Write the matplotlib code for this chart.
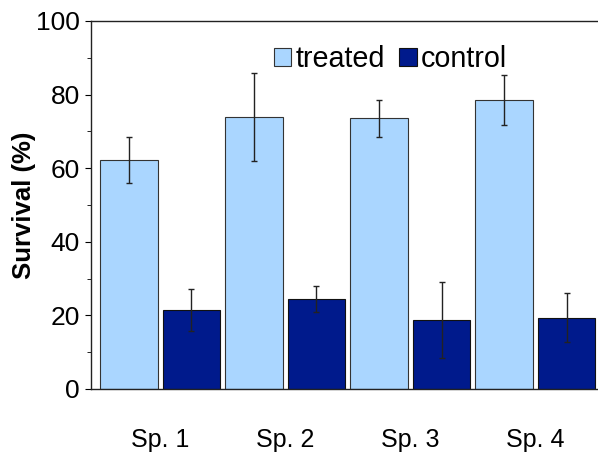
import numpy as np
import matplotlib.pyplot as plt

plt.rcParams['font.family'] = ['Liberation Sans', 'DejaVu Sans']

species = ['Sp. 1', 'Sp. 2', 'Sp. 3', 'Sp. 4']
treated = [62.2, 73.9, 73.6, 78.5]
treated_err = [6.2, 12.0, 5.0, 6.7]
control = [21.5, 24.5, 18.8, 19.4]
control_err = [5.7, 3.5, 10.4, 6.7]

x = np.arange(len(species))
w = 0.46

fig = plt.figure(figsize=(5.98, 4.53), dpi=100)
ax = fig.add_axes([91 / 598, 1 - 389 / 453, 507 / 598, 368 / 453])

err_kw = dict(ecolor='#222222', elinewidth=1, capsize=2.2, capthick=1)
ax.bar(x - 0.25, treated, w, yerr=treated_err, color='#AAD6FF',
       edgecolor='#333333', linewidth=0.8, label='treated', error_kw=err_kw)
ax.bar(x + 0.25, control, w, yerr=control_err, color='#001A8C',
       edgecolor='#111111', linewidth=0.8, label='control', error_kw=err_kw)

ax.set_xlim(-0.552, 3.5)
ax.set_ylim(0, 100)
ax.set_xticks(x)
ax.set_xticklabels(species, fontsize=18)
ax.tick_params(axis='x', length=0, pad=28)
ax.set_yticks(range(0, 101, 20))
ax.set_yticks(range(10, 100, 20), minor=True)
ax.tick_params(axis='y', which='major', length=4, labelsize=19, pad=4)
ax.tick_params(axis='y', which='minor', length=3)
ax.set_ylabel('Survival (%)', fontsize=18.5, fontweight='bold', labelpad=0)

for s in ['left', 'bottom', 'top']:
    ax.spines[s].set_color('#222222')
    ax.spines[s].set_linewidth(1)
ax.spines['right'].set_visible(False)

ax.legend(loc='upper left', bbox_to_anchor=(0.338, 0.965), ncol=2, frameon=False,
          fontsize=20.7, handlelength=0.6, handleheight=0.6, handletextpad=0.15,
          columnspacing=0.5, borderaxespad=0)

fig.savefig('out.png', dpi=100)
